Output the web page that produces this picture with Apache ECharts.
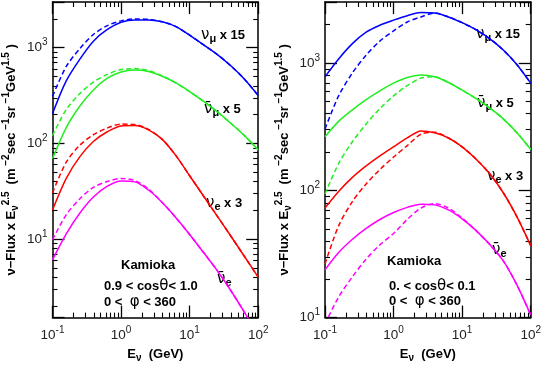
<!DOCTYPE html>
<html><head><meta charset="utf-8">
<script src="https://cdn.jsdelivr.net/npm/echarts@6/dist/echarts.min.js"></script>
<style>html,body{margin:0;padding:0;background:#fff}#c{width:545px;height:368px}</style>
</head><body><div id="c"></div>
<script>
// ---- data (E in GeV, flux x E^2.5) ----
const energyGeV = [0.1,0.158,0.251,0.398,0.631,1,1.585,2.512,3.981,6.31,10,15.85,25.12,39.81,63.1,100];

// Left panel: 0.9 < cos(theta) < 1.0
const L_numu_solid  = [204,447,759,1175,1549,1841,1950,1950,1862,1660,1349,1072,851,646,468,316];
const L_numu_dash   = [309,631,977,1380,1698,1905,1995,1972,1862,1660,1349,1072,851,646,468,316];
const L_anumu_solid = [69,145,245,363,479,556,582,562,501,427,347,275,214,162,120,85];
const L_anumu_dash  = [120,224,331,437,525,589,603,575,507,427,347,275,214,162,120,85];
const L_nue_solid   = [20.0,42.7,72.4,104.7,131.8,151.4,153,138,109.6,74.1,45.7,28.2,17.4,10.7,6.53,3.98];
const L_nue_dash    = [30.2,63.1,95.5,123,144.5,158.5,156.7,139.6,109.6,74.1,45.7,28.2,17.4,10.7,6.53,3.98];
const L_anue_solid  = [6.03,11.2,18.6,27.5,35.5,40.3,39.4,32.4,24.0,16.6,11.1,7.24,4.68,2.88,1.70,0.98];
const L_anue_dash   = [9.77,17.8,26.3,34.7,39.8,42.7,40.7,33.1,24.0,16.6,11.1,7.24,4.68,2.88,1.70,0.98];

// Right panel: 0. < cos(theta) < 0.1
const R_numu_solid  = [776,1072,1413,1738,1972,2163,2344,2483,2455,2291,2065,1820,1549,1259,966,692];
const R_numu_dash   = [302,550,832,1148,1479,1778,2089,2291,2455,2291,2065,1820,1549,1259,966,692];
const R_anumu_solid = [263,347,427,513,603,692,767,803,776,700,610,525,442,363,282,209];
const R_anumu_dash  = [93.3,162,240,331,437,550,661,759,776,700,610,525,442,363,282,209];
const R_nue_solid   = [72.4,97.7,126,155,186,219,257,292,282,257,219,176,135,95.5,61.7,36.7];
const R_nue_dash    = [26.3,52.5,81.3,112,145,182,224,275,285,257,219,176,135,95.5,61.7,36.7];
const R_anue_solid  = [23.7,32.4,41.2,50.1,58.9,66.8,73.3,77.6,76.7,70.0,59.6,48.4,37.6,27.9,18.0,10.5];
const R_anue_dash   = [8.9,14.5,20.9,28.8,37.2,45.7,58.9,72.4,78.5,72.4,60.3,48.4,37.6,27.9,18.0,10.5];

const xRange = [0.1, 100];
const yRangeLeft = [1.5, 3000];
const yRangeRight = [10, 3000];

const colors = {numu:'#0000ff', anumu:'#22ee22', nue:'#ff0000', anue:'#ff00ff'};
const FONT = 'Liberation Sans, Arial, Helvetica, sans-serif';

const grids = [
  {left:52.5, top:2, width:205.7, height:329},
  {left:325, top:2, width:205.7, height:329}
];

function expFmt(v){
  const l = Math.log10(v);
  const e = Math.round(l);
  if (Math.abs(l - e) > 1e-6) return '';
  return '{b|10}{sup|' + e + '}';
}
const labelRich = {
  b:{fontSize:13.5, fontFamily:FONT, color:'#222', verticalAlign:'middle'},
  sup:{fontSize:10, fontFamily:FONT, color:'#222', verticalAlign:'middle', padding:[0,0,10,0]}
};
const nameRich = {
  b:{fontSize:13, fontWeight:'bold', fontFamily:FONT, color:'#000', verticalAlign:'middle'},
  sup:{fontSize:10, fontWeight:'bold', fontFamily:FONT, color:'#000', verticalAlign:'middle', padding:[0,0,10,0]},
  sub:{fontSize:10, fontWeight:'bold', fontFamily:FONT, color:'#000', verticalAlign:'middle', padding:[8,0,0,0]}
};
const axisLine = {show:true, onZero:false, lineStyle:{color:'#000', width:1.5}};
const axisTick = {show:true, inside:true, length:12, lineStyle:{color:'#000', width:1.3}};

const xAxes = [], yAxes = [];
[0,1].forEach(g => {
  xAxes.push({type:'log', logBase:10, gridIndex:g, position:'bottom', min:xRange[0], max:xRange[1],
    axisLine, axisTick, splitLine:{show:false},
    axisLabel:{show:true, margin:8, formatter:expFmt, rich:labelRich, showMinLabel:true, showMaxLabel:true},
    name:'{b|E}{sub|ν}{b|  (GeV)}', nameLocation:'middle', nameGap:27, nameTextStyle:{rich:nameRich}});
  xAxes.push({type:'log', logBase:10, gridIndex:g, position:'top', min:xRange[0], max:xRange[1],
    axisLine, axisTick, splitLine:{show:false}, axisLabel:{show:false}});
  const yr = g === 0 ? yRangeLeft : yRangeRight;
  yAxes.push({type:'log', logBase:10, gridIndex:g, position:'left', min:yr[0], max:yr[1],
    axisLine, axisTick, splitLine:{show:false},
    axisLabel:{show:true, margin:5, formatter:expFmt, rich:labelRich},
    name:'{b|ν−Flux x E}{sub|ν}{sup|2.5} {b| (m}{sup| −2}{b|sec}{sup| −1}{b|sr}{sup| −1}{b|GeV}{sup|1.5}{b| )}',
    nameLocation:'middle', nameRotate:90, nameGap:31, nameTextStyle:{rich:nameRich}});
  yAxes.push({type:'log', logBase:10, gridIndex:g, position:'right', min:yr[0], max:yr[1],
    axisLine, axisTick, splitLine:{show:false}, axisLabel:{show:false}});
});

function mk(vals, color, dashed, g){
  return {type:'line', xAxisIndex:g*2, yAxisIndex:g*2, data: energyGeV.map((e,i)=>[e, vals[i]]),
    showSymbol:false, smooth:0.3, clip:true, silent:true,
    lineStyle:{color, width:1.5, type: dashed ? [5,3] : 'solid'}};
}
const series = [
  mk(L_numu_solid, colors.numu, false, 0), mk(L_numu_dash, colors.numu, true, 0),
  mk(L_anumu_solid, colors.anumu, false, 0), mk(L_anumu_dash, colors.anumu, true, 0),
  mk(L_nue_solid, colors.nue, false, 0), mk(L_nue_dash, colors.nue, true, 0),
  mk(L_anue_solid, colors.anue, false, 0), mk(L_anue_dash, colors.anue, true, 0),
  mk(R_numu_solid, colors.numu, false, 1), mk(R_numu_dash, colors.numu, true, 1),
  mk(R_anumu_solid, colors.anumu, false, 1), mk(R_anumu_dash, colors.anumu, true, 1),
  mk(R_nue_solid, colors.nue, false, 1), mk(R_nue_dash, colors.nue, true, 1),
  mk(R_anue_solid, colors.anue, false, 1), mk(R_anue_dash, colors.anue, true, 1)
];

const annRich = {
  g:{fontSize:15, fontFamily:'DejaVu Sans, '+FONT, color:'#000', verticalAlign:'middle'},
  sub:{fontSize:11, fontWeight:'bold', fontFamily:FONT, color:'#000', verticalAlign:'middle', padding:[8,0,0,0]},
  b:{fontSize:13, fontWeight:'bold', fontFamily:FONT, color:'#000', verticalAlign:'middle'}
};
function txt(x, y, text){
  return {type:'text', x, y, silent:true, style:{text, rich:annRich, align:'left', verticalAlign:'middle'}};
}
const labelNumu = '{g|ν}{sub|μ}{b| x 15}';
const labelAnumu = '{g|ν̄}{sub|μ}{b| x 5}';
const labelNue = '{g|ν}{sub|e}{b| x 3}';
const labelAnue = '{g|ν̄}{sub|e}';
const annotations = [
  txt(201, 35, labelNumu), txt(204, 109, labelAnumu), txt(206, 203, labelNue), txt(217, 279, labelAnue),
  txt(121, 265, '{b|Kamioka}'), txt(104, 286, '{b|0.9 < cos}{g|θ}{b|< 1.0}'), txt(104, 302, '{b|0 <  }{g|φ}{b| < 360}'),
  txt(476, 34, labelNumu), txt(477, 103, labelAnumu), txt(487, 176, labelNue), txt(492, 250, labelAnue),
  txt(387, 261, '{b|Kamioka}'), txt(389, 286, '{b|0. < cos}{g|θ}{b|< 0.1}'), txt(389, 301, '{b|0 <  }{g|φ}{b| < 360}')
];

const chart = echarts.init(document.getElementById('c'), null, {renderer:'canvas'});
chart.setOption({
  animation:false, backgroundColor:'#fff',
  grid: grids, xAxis: xAxes, yAxis: yAxes, series,
  graphic: annotations
});

// minor ticks at 2..9 x 10^n, on all four sides of each panel
const minor = [];
const ML = 5;
[0,1].forEach(g => {
  const yr = g === 0 ? yRangeLeft : yRangeRight;
  const xL = chart.convertToPixel({xAxisIndex:g*2}, xRange[0]);
  const xR = chart.convertToPixel({xAxisIndex:g*2}, xRange[1]);
  const yB = chart.convertToPixel({yAxisIndex:g*2}, yr[0]);
  const yT = chart.convertToPixel({yAxisIndex:g*2}, yr[1]);
  const ls = {stroke:'#000', lineWidth:1.1};
  for (let d = -1; d <= 1; d++) for (let m = 2; m <= 9; m++) {
    const v = m * Math.pow(10, d);
    if (v <= xRange[0] || v >= xRange[1]) continue;
    const px = Math.round(chart.convertToPixel({xAxisIndex:g*2}, v)) + 0.5;
    minor.push({type:'line', silent:true, shape:{x1:px, y1:yB, x2:px, y2:yB-ML}, style:ls});
    minor.push({type:'line', silent:true, shape:{x1:px, y1:yT, x2:px, y2:yT+ML}, style:ls});
  }
  for (let d = 0; d <= 3; d++) for (let m = 2; m <= 9; m++) {
    const v = m * Math.pow(10, d);
    if (v <= yr[0] || v >= yr[1]) continue;
    const py = Math.round(chart.convertToPixel({yAxisIndex:g*2}, v)) + 0.5;
    minor.push({type:'line', silent:true, shape:{x1:xL, y1:py, x2:xL+ML, y2:py}, style:ls});
    minor.push({type:'line', silent:true, shape:{x1:xR, y1:py, x2:xR-ML, y2:py}, style:ls});
  }
});
chart.setOption({graphic: annotations.concat(minor)}, {replaceMerge:['graphic']});
</script>
</body></html>
